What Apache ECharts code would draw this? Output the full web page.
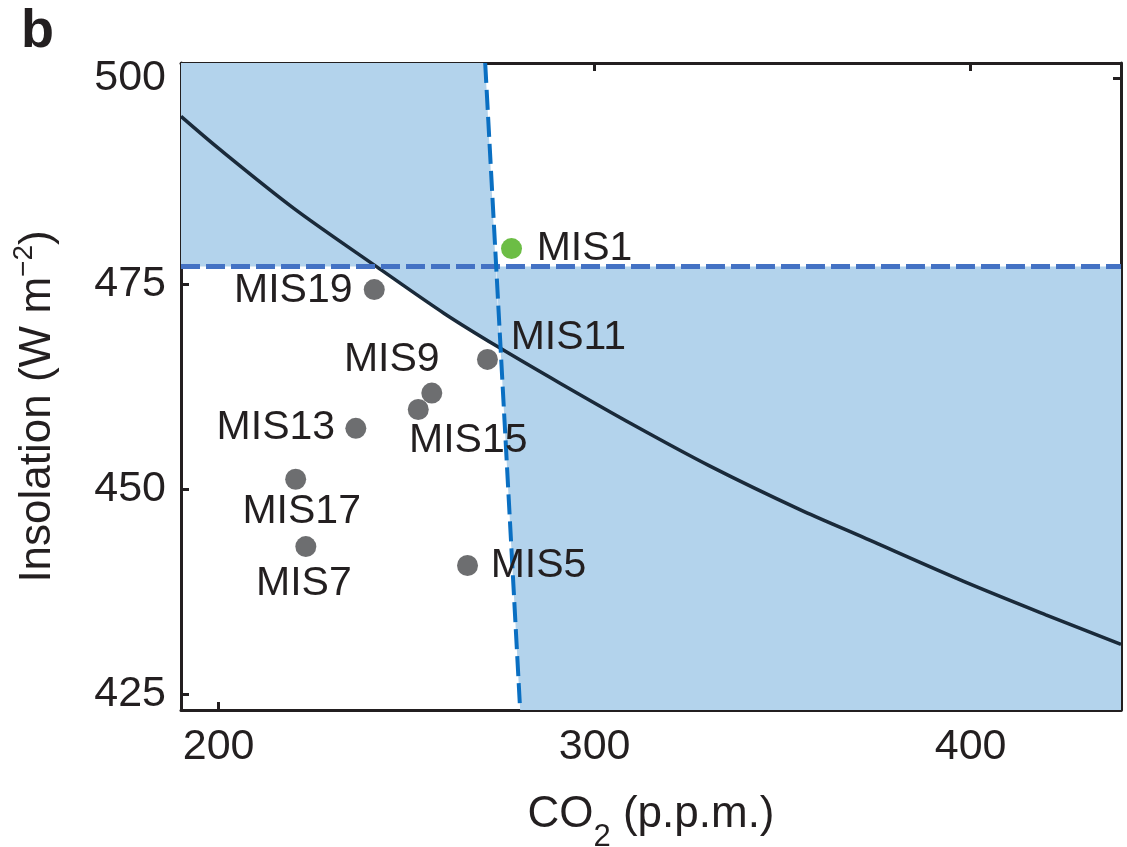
<html>
<head>
<meta charset="utf-8">
<script src="https://cdn.jsdelivr.net/npm/echarts@6/dist/echarts.min.js"></script>
<style>
    body { margin: 0; padding: 0; background: #fff; }
    #chart { width: 1127px; height: 847px; }
</style>
</head>
<body>
<div id="chart"></div>
<script type="text/javascript">
    // axis ranges and ticks
    var xMin = 190, xMax = 440;
    var yMin = 423.1, yMax = 501.9;
    var xTicks = [200, 300, 400];
    var yTicks = [425, 450, 475, 500];

    // threshold curve
    var curveCO2 = [190, 200, 220, 242, 260, 274.4, 290.8, 310, 330.7, 354.6, 370.6, 398, 420, 440];
    var curveIns = [495.4, 491.5, 484.2, 477.1, 471.4, 467.3, 462.9, 457.9, 452.8, 447.5, 444.3, 438.8, 434.7, 431.1];

    // dashed threshold lines
    var hLine = [[190, 477.1], [440, 477.1]];
    var vLine = [[270.9, 501.9], [280.2, 423.1]];

    // shaded regions (vertices in data units)
    var regionTopLeft = [[190, 501.9], [270.9, 501.9], [274.8, 467.3], [258, 471.9], [242, 477.1], [190, 477.1]];
    var regionRight = [[273.8, 477.1], [440, 477.1], [440, 423.1], [280.2, 423.1]];

    // interglacials
    var misNames = ['MIS1', 'MIS19', 'MIS11', 'MIS9', 'MIS15', 'MIS13', 'MIS17', 'MIS7', 'MIS5'];
    var misCO2 = [277.9, 241.4, 271.5, 256.7, 253.1, 236.5, 220.5, 223.2, 266.2];
    var misIns = [479.3, 474.3, 465.8, 461.7, 459.7, 457.4, 451.2, 443.0, 440.7];

    var textColor = '#231f20';
    var font = 'Liberation Sans, Arial, Helvetica, sans-serif';

    // label offsets from the dot centre (pixels)
    var labelOffset = {
        MIS1: [73, 0], MIS19: [-81, 1], MIS11: [81, -22], MIS9: [-40, -33],
        MIS15: [50, 31], MIS13: [-80, -1], MIS17: [6, 32], MIS7: [-2, 37], MIS5: [71, 0]
    };

    var curveData = [];
    for (var c = 0; c < curveCO2.length; c++) {
        curveData.push([curveCO2[c], curveIns[c]]);
    }

    var misData = [];
    for (var c = 0; c < misNames.length; c++) {
        misData.push({
            name: misNames[c],
            value: [misCO2[c], misIns[c]],
            itemStyle: { color: misNames[c] === 'MIS1' ? '#6cbd45' : '#6d6e70', opacity: 1 },
            label: { offset: labelOffset[misNames[c]] }
        });
    }

    function polygonRender(points) {
        return function (params, api) {
            var pts = [];
            for (var i = 0; i < points.length; i++) {
                pts.push(api.coord(points[i]));
            }
            return {
                type: 'polygon',
                shape: { points: pts },
                style: { fill: '#b3d3ec' },
                silent: true
            };
        };
    }

    var axisLineStyle = { color: textColor, width: 3 };

    var chart = echarts.init(document.getElementById('chart'), null, { renderer: 'canvas' });

    const option = {
        animation: false,
        backgroundColor: '#ffffff',
        grid: { left: 181, right: 6, top: 63, bottom: 137, containLabel: false, outerBoundsMode: 'none' },
        graphic: [{
            type: 'text',
            left: 21,
            top: 5,
            style: { text: 'b', font: 'bold 54px ' + font, fill: textColor }
        }],
        xAxis: [{
            type: 'value',
            min: xMin, max: xMax,
            position: 'bottom',
            axisLine: { show: true, onZero: false, lineStyle: axisLineStyle },
            axisTick: { show: true, inside: true, length: 8, lineStyle: axisLineStyle, customValues: xTicks },
            axisLabel: { customValues: xTicks, color: textColor, fontSize: 43, fontFamily: font, margin: 16 },
            splitLine: { show: false },
            name: '{a|CO}{s|2}{a| (p.p.m.)}',
            nameLocation: 'middle',
            nameGap: 66,
            nameTextStyle: {
                rich: {
                    a: { fontSize: 44, fontFamily: font, color: textColor },
                    s: { fontSize: 31, fontFamily: font, color: textColor, padding: [46, 0, 0, 0] }
                }
            }
        }, {
            type: 'value',
            min: xMin, max: xMax,
            position: 'top',
            axisLine: { show: true, onZero: false, lineStyle: axisLineStyle },
            axisTick: { show: true, inside: true, length: 8, lineStyle: axisLineStyle, customValues: xTicks },
            axisLabel: { show: false },
            splitLine: { show: false }
        }],
        yAxis: [{
            type: 'value',
            min: yMin, max: yMax,
            position: 'left',
            axisLine: { show: true, onZero: false, lineStyle: axisLineStyle },
            axisTick: { show: true, inside: true, length: 8, lineStyle: axisLineStyle, customValues: yTicks },
            axisLabel: { customValues: yTicks, color: textColor, fontSize: 43, fontFamily: font, margin: 15 },
            splitLine: { show: false },
            name: '{a|Insolation (W m}{p|\u22122}{a|)}',
            nameLocation: 'middle',
            nameRotate: 90,
            nameGap: 115,
            nameTextStyle: {
                padding: [0, 40, 0, 0],
                rich: {
                    a: { fontSize: 44, fontFamily: font, color: textColor, lineHeight: 56 },
                    p: { fontSize: 28, fontFamily: font, color: textColor, lineHeight: 28, verticalAlign: 'top' }
                }
            }
        }, {
            type: 'value',
            min: yMin, max: yMax,
            position: 'right',
            axisLine: { show: true, onZero: false, lineStyle: axisLineStyle },
            axisTick: { show: true, inside: true, length: 8, lineStyle: axisLineStyle, customValues: yTicks },
            axisLabel: { show: false },
            splitLine: { show: false }
        }],
        series: [{
            type: 'custom',
            name: 'region1',
            renderItem: polygonRender(regionTopLeft),
            data: [0],
            z: 1
        }, {
            type: 'custom',
            name: 'region2',
            renderItem: polygonRender(regionRight),
            data: [0],
            z: 1
        }, {
            type: 'line',
            name: 'threshold',
            data: curveData,
            smooth: 0.3,
            showSymbol: false,
            lineStyle: { color: '#1a2a3a', width: 3.5 },
            z: 3
        }, {
            type: 'line',
            name: 'insolation threshold',
            data: hLine,
            showSymbol: false,
            lineStyle: { color: '#4472c4', width: 5, type: [19, 6] },
            z: 4
        }, {
            type: 'line',
            name: 'CO2 threshold',
            data: vLine,
            showSymbol: false,
            lineStyle: { color: '#0a6fc2', width: 4, type: [20, 7] },
            z: 4
        }, {
            type: 'scatter',
            name: 'MIS',
            data: misData,
            symbolSize: 21,
            itemStyle: { opacity: 1 },
            label: {
                show: true,
                position: 'inside',
                formatter: '{b}',
                color: textColor,
                textBorderWidth: 0,
                textBorderColor: 'transparent',
                fontSize: 41,
                fontFamily: font
            },
            z: 5
        }]
    };

    chart.setOption(option);
</script>
</body>
</html>
